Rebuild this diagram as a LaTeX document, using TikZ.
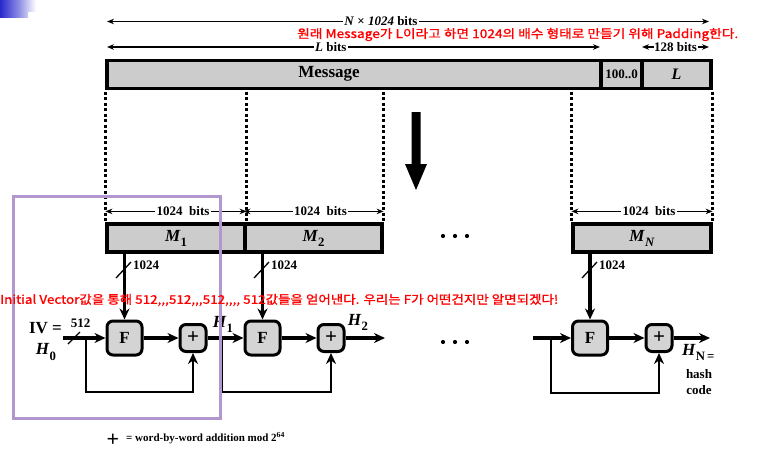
\documentclass[tikz,border=0pt]{standalone}
\usepackage{fontspec}
\setmainfont{Liberation Serif}
\newfontfamily\krfont[FakeBold=1.2]{Noto Sans CJK KR}
\usetikzlibrary{arrows.meta,calc}
\definecolor{barfill}{RGB}{204,204,204}
\definecolor{boxfill}{RGB}{212,212,212}
\definecolor{lav}{RGB}{178,150,206}
\definecolor{logoblue}{RGB}{40,40,205}
\newcommand\fsz[1]{\fontsize{#1}{#1}\selectfont}
\newcommand\lsub[1]{\raisebox{-0.3em}{\scalebox{0.75}{#1}}}
\tikzset{
  bar/.style={draw, line width=3.2pt, fill=barfill, minimum height=28pt, inner sep=0pt, font=\fsz{17}\bfseries},
  fbox/.style={draw, line width=3pt, fill=boxfill, rounded corners=6pt, minimum width=35pt, minimum height=34pt, inner sep=0pt, font=\fsz{17}\bfseries},
  pbox/.style={draw, line width=3pt, fill=boxfill, rounded corners=6pt, minimum width=26pt, minimum height=27pt, inner sep=0pt, font=\fsz{21}\bfseries},
  dim/.style={line width=1.1pt, {Stealth[length=7pt,width=5.5pt]}-{Stealth[length=7pt,width=5.5pt]}},
  dimlbl/.style={fill=white, inner xsep=1.5pt, inner ysep=0pt, font=\fsz{13}\bfseries},
  flow/.style={line width=3.1pt, -{Stealth[length=11pt,width=10pt]}},
  fb/.style={line width=2.6pt},
  divide/.style={line width=2.6pt, dash pattern=on 3pt off 2.5pt},
  slash/.style={line width=1.3pt},
  small/.style={font=\fsz{13}\bfseries, inner sep=0pt},
  big/.style={font=\fsz{17}\bfseries, inner sep=0pt},
  redtxt/.style={text=red, inner sep=0pt, font=\krfont\fsz{12}},
}
\begin{document}
\begin{tikzpicture}[x=1pt,y=-1pt]
\useasboundingbox (0,0) rectangle (759,460);
% logo
\shade[left color=logoblue, right color=white, middle color=logoblue!55] (0,0) -- (36,0) -- (36,12) -- (28,12) -- (28,18) -- (0,18) -- cycle;

% top bar
\node[bar, minimum width=494pt] (msg) at (354,74.5) {};
\node[big] (msglbl) at (329,74) {Message};
\node[bar, minimum width=41pt, font=\fsz{13}\bfseries] (pad) at (621.5,74.5) {100..0};
\node[bar, minimum width=69pt, font=\fsz{16}\bfseries\itshape] (len) at (676.5,74.5) {L};

% top dimension arrows
\coordinate (nL) at (107,21.5); \coordinate (nR) at (709,21.5);
\draw[dim] (nL) -- node[dimlbl, pos=0.455] {\textit{N} × \textit{1024} bits} (nR);
\coordinate (lL) at (107,47); \coordinate (lR) at (600,47);
\draw[dim] (lL) -- node[dimlbl, pos=0.454] {\textit{L} bits} (lR);
\coordinate (pL) at (642,47); \coordinate (pR) at (709,47);
\draw[dim] (pL) -- node[dimlbl, inner xsep=0.5pt] {128 bits} (pR);

% block bars
\node[bar, minimum width=138pt] (m1) at (176,238) {\textit{M}\lsub{1}};
\node[bar, minimum width=137pt] (m2) at (313.5,238) {\textit{M}\lsub{2}};
\node[bar, minimum width=138pt] (mn) at (642,238) {\textit{M}\lsub{\textit{N}}};

% dashed dividers
\draw[divide] ([yshift=-1.6pt]msg.south west) -- ([yshift=1.6pt]m1.north west);
\draw[divide] ([yshift=-1.6pt]m1.north east |- msg.south) -- ([yshift=1.6pt]m1.north east);
\draw[divide] ([yshift=-1.6pt]m2.north east |- msg.south) -- ([yshift=1.6pt]m2.north east);
\draw[divide] ([yshift=-1.6pt]mn.north west |- msg.south) -- ([yshift=1.6pt]mn.north west);
\draw[divide] ([yshift=-1.6pt]len.south east) -- ([yshift=1.6pt]mn.north east);

% block dimension arrows
\draw[dim] ([yshift=11pt]m1.north west) -- node[dimlbl, pos=0.55] {1024\hspace{0.5em}bits} ([yshift=11pt]m1.north east);
\draw[dim] ([yshift=11pt]m2.north west) -- node[dimlbl, pos=0.55] {1024\hspace{0.5em}bits} ([yshift=11pt]m2.north east);
\draw[dim] ([yshift=11pt]mn.north west) -- node[dimlbl, pos=0.55] {1024\hspace{0.5em}bits} ([yshift=11pt]mn.north east);

% big arrow
\fill (411.5,112) -- (420.5,112) -- (420.5,164) -- (427,164) -- (416,190) -- (405,164) -- (411.5,164) -- cycle;

% dots
\foreach \x in {443,455,467} { \fill (\x,236) circle (2.1pt); \fill (\x,342) circle (2.1pt); }

% compression stages
\node[fbox] (f1) at (124.5,338) {F};
\node[pbox] (p1) at (193,338) {+};
\node[fbox] (f2) at (262.5,338) {F};
\node[pbox] (p2) at (331,338) {+};
\node[fbox] (f3) at (590,338) {F};
\node[pbox] (p3) at (659,338) {+};

% message inputs
\draw[flow] (f1.north |- m1.south) -- (f1.north);
\draw[flow] (f2.north |- m2.south) -- (f2.north);
\draw[flow] (f3.north |- mn.south) -- (f3.north);
\draw[slash] (116,278) -- (131,262);
\draw[slash] (254,278) -- (269,262);
\draw[slash] (582,278) -- (597,262);
\node[small, anchor=west] (w1) at (133,265) {1024};
\node[small, anchor=west] (w2) at (271,265) {1024};
\node[small, anchor=west] (w3) at (599,265) {1024};

% chaining
\coordinate (iv) at (63,338);
\coordinate (b1) at (86,338); \coordinate (low1) at (86,392);
\coordinate (b2) at (222,338); \coordinate (low2) at (222,392);
\coordinate (h2end) at (385,338);
\coordinate (s3) at (533,338);
\coordinate (b3) at (551,338); \coordinate (low3) at (551,393);
\coordinate (hnend) at (710,338);

\draw[flow] (iv) -- (f1);
\draw[flow] (f1) -- (p1);
\draw[flow, fb] (b1) -- (low1) -| (p1.south);
\draw[flow] (p1) -- (f2);
\draw[flow] (f2) -- (p2);
\draw[flow, fb] (b2) -- (low2) -| (p2.south);
\draw[flow] (p2) -- (h2end);
\draw[flow] (s3) -- (f3);
\draw[flow] (f3) -- (p3);
\draw[flow, fb] (b3) -- (low3) -| (p3.south);
\draw[flow] (p3) -- (hnend);

\draw[slash] (68,344) -- (80,332);
\node[small] (w0) at (80.5,323) {512};
\node[big] (ivlbl) at (45.5,328) {IV =};
\node[big] (h0) at (46,352) {\textit{H}\lsub{0}};
\node[big] (h1) at (223,324) {\textit{H}\lsub{1}};
\node[big] (h2) at (358,322) {\textit{H}\lsub{2}};
\node[big, anchor=west] (hn) at (682,352) {\textit{H}\lsub{N\,=}};
\node[small] (hash) at (699,374) {hash};
\node[small] (code) at (699,390) {code};

% legend
\node[font=\fsz{22}\bfseries, inner sep=0pt] (legplus) at (113,440) {+};
\node[anchor=west, font=\fsz{11}\bfseries, inner sep=0pt] (legend) at (126,438) {= word-by-word addition mod 2\textsuperscript{64}};

% highlight box
\draw[lav, line width=3pt] (13,196) rectangle (220,418);

% red notes
\node[redtxt, anchor=west] (note1) at (297,34.5) {\resizebox{441pt}{\height}{원래 Message가 L이라고 하면 1024의 배수 형태로 만들기 위해 Padding한다.}};
\node[redtxt, anchor=west] (note2) at (0,300) {\resizebox{558pt}{\height}{Initial Vector값을 통해 512,,,512,,,512,,,, 512값들을 얻어낸다. 우리는 F가 어떤건지만 알면되겠다!}};
\end{tikzpicture}
\end{document}
